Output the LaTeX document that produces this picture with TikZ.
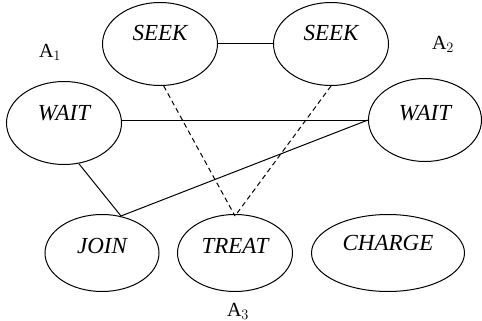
\documentclass[tikz,border=0pt]{standalone}
\usetikzlibrary{shapes.geometric}
\usepackage{fontspec}
\setmainfont{Liberation Serif}
\begin{document}
\begin{tikzpicture}[x=1pt,y=-1pt,
  st/.style={draw,ellipse,line width=1pt,inner sep=0pt},
  lab/.style={font=\fontsize{23}{23}\selectfont\itshape},
  conn/.style={line width=1pt},
  dconn/.style={line width=1pt,dash pattern=on 5pt off 3.5pt},
  alab/.style={font=\fontsize{20}{20}\selectfont}]
\useasboundingbox (0,0) rectangle (482,321);
\node[st,minimum width=115,minimum height=83] (s1) at (160,44) {};
\node[st,minimum width=115,minimum height=83] (s2) at (331,44) {};
\node[st,minimum width=115,minimum height=83] (w1) at (64,123) {};
\node[st,minimum width=113,minimum height=83] (w2) at (425,120) {};
\node[st,minimum width=114,minimum height=77] (j) at (102,253) {};
\node[st,minimum width=115,minimum height=77] (t) at (235,253) {};
\node[st,minimum width=153,minimum height=77] (c) at (388,253) {};
\node[lab] (s1t) at (160,33) {SEEK};
\node[lab] (s2t) at (331,33) {SEEK};
\node[lab] (w1t) at (64,113) {WAIT};
\node[lab] (w2t) at (425,113) {WAIT};
\node[lab] (jtx) at (102,246) {JOIN};
\node[lab] (ttx) at (235,246) {TREAT};
\node[lab] (ctx) at (388,243) {CHARGE};
\node[alab] (a1) at (50,52) {A$_1$};
\node[alab] (a2) at (443,44) {A$_2$};
\node[alab] (a3) at (238,311) {A$_3$};
\coordinate (jt) at (121,216);
\coordinate (tt) at (235,216);
\draw[conn] (s1.east) -- (s2.west);
\draw[conn] (w1.east |- 0,120) -- (w2.west);
\draw[conn] (w2.west) -- (jt);
\draw[conn] (w1.290) -- (jt);
\draw[dconn] (s1.275) -- (tt);
\draw[dconn] (s2.270) -- (tt);
\end{tikzpicture}
\end{document}
